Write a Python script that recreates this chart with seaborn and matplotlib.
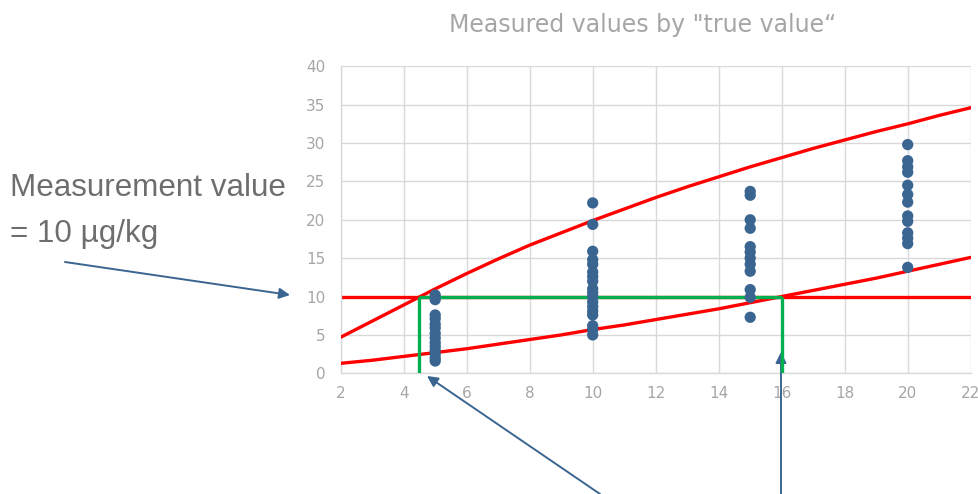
import matplotlib
matplotlib.use("Agg")
import matplotlib.pyplot as plt
import seaborn as sns
import pandas as pd

# ---- data ----
true_5 = [10.2, 9.6, 7.6, 7.1, 6.4, 5.9, 5.2, 4.6, 4.0, 3.5, 3.0, 2.5, 2.0, 1.6]
true_10 = [22.2, 19.4, 15.9, 14.8, 14.2, 13.2, 12.6, 12.0, 11.0, 10.5, 10.0, 9.3, 8.7, 8.1, 7.6, 6.2, 5.7, 5.0]
true_15 = [23.7, 23.2, 20.0, 18.9, 16.5, 15.8, 15.0, 14.2, 13.3, 10.9, 9.9, 7.3]
true_20 = [29.8, 27.7, 26.9, 26.2, 24.5, 23.3, 22.3, 20.5, 19.8, 18.3, 17.6, 16.9, 13.8]

curve_x = [2, 3, 4, 5, 6, 7, 8, 9, 10, 11, 12, 13, 14, 15, 16, 17, 18, 19, 20, 21, 22]
upper_curve = [4.7, 6.8, 8.9, 11.0, 13.0, 14.9, 16.7, 18.3, 19.9, 21.4, 22.9, 24.3,
               25.6, 26.9, 28.1, 29.3, 30.4, 31.5, 32.5, 33.6, 34.6]
lower_curve = [1.3, 1.7, 2.2, 2.7, 3.2, 3.8, 4.4, 5.0, 5.7, 6.3, 7.0, 7.7,
               8.4, 9.2, 10.0, 10.8, 11.6, 12.4, 13.3, 14.2, 15.1]

measurement = 10
range_low = 4.5
range_high = 16

x_ticks = [2, 4, 6, 8, 10, 12, 14, 16, 18, 20, 22]
y_ticks = [0, 5, 10, 15, 20, 25, 30, 35, 40]

title = 'Measured values by "true value\u201c'
label_1 = "Measurement value"
label_2 = "= 10 \u00b5g/kg"

# ---- build tables ----
pts = pd.DataFrame({
    "true": [5] * len(true_5) + [10] * len(true_10) + [15] * len(true_15) + [20] * len(true_20),
    "measured": true_5 + true_10 + true_15 + true_20,
})
curves = pd.DataFrame({"x": curve_x, "upper": upper_curve, "lower": lower_curve})

sns.set_theme(style="white")
plt.rcParams["font.family"] = ["DejaVu Sans"]

W, H = 979, 494
fig = plt.figure(figsize=(W / 100, H / 100), dpi=100)
ax = fig.add_axes([340.7 / W, 120.7 / H, 630 / W, 307 / H])

red = "#FF0000"
green = "#00B050"
blue = "#3B6591"
grid = "#D9D9D9"
txt = "#A6A6A6"

ax.axhline(measurement, color=red, lw=2.4, zorder=2)
sns.lineplot(data=curves, x="x", y="upper", ax=ax, color=red, lw=2.4, zorder=3)
sns.lineplot(data=curves, x="x", y="lower", ax=ax, color=red, lw=2.4, zorder=3)

ax.plot([range_low, range_low], [0, measurement], color=green, lw=2.4, zorder=4, solid_capstyle="butt")
ax.plot([range_low, range_high], [measurement, measurement], color=green, lw=2.4, zorder=4, solid_capstyle="butt")
ax.plot([range_high, range_high], [0, measurement], color=green, lw=2.4, zorder=4, solid_capstyle="butt")

sns.scatterplot(data=pts, x="true", y="measured", ax=ax, color=blue, s=66,
                edgecolor="none", zorder=5)

ax.set_xlim(x_ticks[0], x_ticks[-1])
ax.set_ylim(y_ticks[0], y_ticks[-1])
ax.set_xticks(x_ticks)
ax.set_yticks(y_ticks)
ax.set_xlabel("")
ax.set_ylabel("")
ax.grid(True, color=grid, lw=1)
ax.set_axisbelow(True)
for s in ["top", "right"]:
    ax.spines[s].set_visible(False)
for s in ["left", "bottom"]:
    ax.spines[s].set_color(grid)
    ax.spines[s].set_linewidth(1)
ax.tick_params(length=0, labelsize=11, labelcolor=txt)
ax.tick_params(axis="x", pad=9)
ax.tick_params(axis="y", pad=11)

fig.text(642.5 / W, 1 - 32.3 / H, title, ha="center", va="baseline", fontsize=17, color=txt)
fig.text(10 / W, 1 - 196 / H, label_1, ha="left", va="baseline", fontsize=22.6,
         color="#6E6E6E", family=["Liberation Sans", "DejaVu Sans"])
fig.text(10 / W, 1 - 241.7 / H, label_2, ha="left", va="baseline", fontsize=22.6,
         color="#6E6E6E", family=["Liberation Sans", "DejaVu Sans"])

arrow_kw = dict(arrowstyle="-|>", color=blue, lw=1.4, mutation_scale=16, shrinkA=0, shrinkB=0)
ax.annotate("", xy=(290, H - 295), xycoords="figure pixels",
            xytext=(65, H - 262), textcoords="figure pixels", arrowprops=arrow_kw)
ax.annotate("", xy=(427, H - 376), xycoords="figure pixels",
            xytext=(600, H - 494), textcoords="figure pixels", arrowprops=arrow_kw,
            annotation_clip=False)
ax.annotate("", xy=(781, H - 352), xycoords="figure pixels",
            xytext=(781, H - 494), textcoords="figure pixels", arrowprops=arrow_kw,
            annotation_clip=False)

fig.savefig("out.png", dpi=100)
